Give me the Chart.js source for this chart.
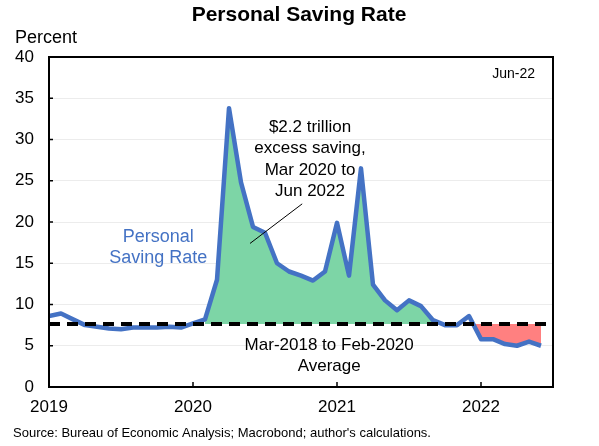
<!DOCTYPE html>
<html>
<head>
<meta charset="utf-8">
<script src="https://cdn.jsdelivr.net/npm/chart.js@4.4.0/dist/chart.umd.min.js"></script>
<style>
  body { margin: 0; background: #fff; }
  #wrap { width: 599px; height: 446px; position: relative; }
</style>
</head>
<body>
<div id="wrap"><canvas id="savingChart"></canvas></div>
<script>
// monthly, Jan 2019 .. Jun 2022
var months = [
  '2019-01','2019-02','2019-03','2019-04','2019-05','2019-06','2019-07','2019-08','2019-09','2019-10','2019-11','2019-12',
  '2020-01','2020-02','2020-03','2020-04','2020-05','2020-06','2020-07','2020-08','2020-09','2020-10','2020-11','2020-12',
  '2021-01','2021-02','2021-03','2021-04','2021-05','2021-06','2021-07','2021-08','2021-09','2021-10','2021-11','2021-12',
  '2022-01','2022-02','2022-03','2022-04','2022-05','2022-06'
];
var savingRate = [
  8.6, 8.9, 8.2, 7.5, 7.3, 7.1, 7.0, 7.2, 7.2, 7.2, 7.3, 7.2,
  7.7, 8.2, 13.0, 33.8, 24.8, 19.4, 18.7, 15.0, 14.0, 13.5, 12.9, 14.0,
  19.9, 13.5, 26.5, 12.4, 10.5, 9.3, 10.5, 9.8, 8.1, 7.5, 7.5, 8.6,
  5.8, 5.8, 5.2, 5.0, 5.5, 5.0
];
var avgRate = 7.65;          // Mar-2018 to Feb-2020 average
var yearTicks = ['2019', '2020', '2021', '2022'];
var excessStart = 13, excessEnd = 33;   // Feb 2020 .. Oct 2021 (green)
var shortStart = 35, shortEnd = 41;     // Dec 2021 .. Jun 2022 (red)

var BLUE = '#4472C4';
var GREEN = 'rgb(125, 213, 166)';
var RED = 'rgb(255, 128, 128)';
var FONT = '"Liberation Sans", Arial, sans-serif';

function pts(from, to) {
  var out = [];
  for (var i = from; i <= to; i++) out.push({ x: i, y: savingRate[i] });
  return out;
}

var decor = {
  id: 'decor',
  afterDraw: function(chart) {
    var c = chart.ctx, a = chart.chartArea;
    var xs = chart.scales.x, ys = chart.scales.y;
    c.save();
    // frame
    c.strokeStyle = '#000';
    c.lineWidth = 2;
    c.strokeRect(a.left, a.top, a.right - a.left, a.bottom - a.top);
    // inward ticks
    c.lineWidth = 1.5;
    c.beginPath();
    ys.ticks.forEach(function(t) {
      var y = ys.getPixelForValue(t.value);
      c.moveTo(a.left, y); c.lineTo(a.left + 4, y);
    });
    xs.ticks.forEach(function(t) {
      var x = xs.getPixelForValue(t.value);
      c.moveTo(x, a.bottom); c.lineTo(x, a.bottom - 5);
    });
    c.stroke();

    c.fillStyle = '#000';
    c.textBaseline = 'middle';
    c.textAlign = 'center';
    c.font = 'bold 21px ' + FONT;
    c.fillText('Personal Saving Rate', 299, 15);

    c.textAlign = 'left';
    c.font = '18px ' + FONT;
    c.fillText('Percent', 15, 38);

    c.font = '13px ' + FONT;
    c.fillText("Source: Bureau of Economic Analysis; Macrobond; author's calculations.", 13, 433);

    c.textAlign = 'right';
    c.font = '14px ' + FONT;
    c.fillText('Jun-22', a.right - 18, a.top + 17);

    // annotations anchored on data coordinates
    c.textAlign = 'center';
    c.font = '17px ' + FONT;
    var ax = xs.getPixelForValue(21.75);
    var lines = ['$2.2 trillion', 'excess saving,', 'Mar 2020 to', 'Jun 2022'];
    lines.forEach(function(s, i) {
      c.fillText(s, ax, ys.getPixelForValue(31.5) + i * 21.5);
    });
    c.lineWidth = 1;
    c.beginPath();
    c.moveTo(xs.getPixelForValue(21.1), ys.getPixelForValue(22.2));
    c.lineTo(xs.getPixelForValue(16.75), ys.getPixelForValue(17.4));
    c.stroke();

    var bx = xs.getPixelForValue(23.35);
    c.fillText('Mar-2018 to Feb-2020', bx, ys.getPixelForValue(5.0));
    c.fillText('Average', bx, ys.getPixelForValue(5.0) + 21);

    c.fillStyle = BLUE;
    c.font = '18px ' + FONT;
    var px = xs.getPixelForValue(9.1);
    c.fillText('Personal', px, ys.getPixelForValue(18.2));
    c.fillText('Saving Rate', px, ys.getPixelForValue(18.2) + 21);
    c.restore();
  }
};

var chart = new Chart(document.getElementById('savingChart').getContext('2d'), {
  type: 'line',
  data: {
    datasets: [
      {
        label: 'Average',
        data: [{ x: 0, y: avgRate }, { x: 42, y: avgRate }],
        borderColor: '#000',
        borderWidth: 4,
        borderDash: [11, 7],
        pointRadius: 0,
        fill: false,
        order: 0
      },
      {
        label: 'Personal Saving Rate',
        data: savingRate.map(function(v, i) { return { x: i, y: v }; }),
        borderColor: BLUE,
        borderWidth: 4.5,
        borderJoinStyle: 'round',
        pointRadius: 0,
        fill: false,
        order: 1
      },
      {
        label: 'excess',
        data: pts(excessStart, excessEnd),
        borderWidth: 0,
        borderColor: 'rgba(0,0,0,0)',
        pointRadius: 0,
        fill: { target: { value: avgRate }, above: GREEN, below: 'rgba(0,0,0,0)' },
        order: 2
      },
      {
        label: 'shortfall',
        data: pts(shortStart, shortEnd),
        borderWidth: 0,
        borderColor: 'rgba(0,0,0,0)',
        pointRadius: 0,
        fill: { target: { value: avgRate }, above: 'rgba(0,0,0,0)', below: RED },
        order: 2
      }
    ]
  },
  options: {
    responsive: true,
    maintainAspectRatio: false,
    animation: false,
    layout: { padding: { top: 57, right: 46, left: 0, bottom: 0 } },
    plugins: {
      legend: { display: false },
      tooltip: { enabled: false },
      title: { display: false }
    },
    scales: {
      x: {
        type: 'linear',
        min: 0,
        max: 42,
        afterBuildTicks: function(scale) {
          scale.ticks = yearTicks.map(function(y, i) { return { value: i * 12 }; });
        },
        afterFit: function(scale) { scale.height = 59; },
        grid: { display: false },
        border: { display: true, color: '#000', width: 2 },
        ticks: {
          padding: 2,
          color: '#000',
          font: { family: FONT, size: 17 },
          maxRotation: 0,
          autoSkip: false,
          callback: function(v) { return yearTicks[Math.round(v / 12)]; }
        }
      },
      y: {
        min: 0,
        max: 40,
        afterFit: function(scale) { scale.width = 49; },
        grid: { color: '#ececec', lineWidth: 1, drawTicks: false },
        border: { display: true, color: '#000', width: 2 },
        ticks: {
          stepSize: 5,
          padding: 15,
          color: '#000',
          font: { family: FONT, size: 17 }
        }
      }
    }
  },
  plugins: [decor]
});
</script>
</body>
</html>
